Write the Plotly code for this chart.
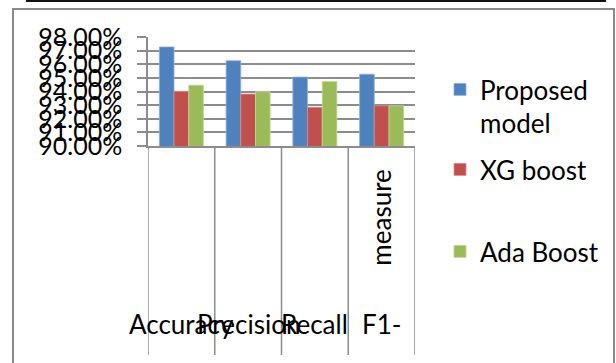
import plotly.graph_objects as go

# Metric scores of the three classifiers
categories = ["Accuracy", "Precision", "Recall", "F1-measure"]
series_names = ["Proposed model", "XG boost", "Ada Boost"]
proposed = [0.9727, 0.9626, 0.9506, 0.9527]
xg_boost = [0.9401, 0.9381, 0.9284, 0.9295]
ada_boost = [0.9446, 0.9398, 0.9473, 0.9295]
y_ticks = [0.90, 0.91, 0.92, 0.93, 0.94, 0.95, 0.96, 0.97, 0.98]

colors = ["#4F81BD", "#C0504D", "#9BBB59"]
edge_colors = ["#8FB0DA", "#D98A88", "#C1D89A"]

W, H = 616, 363
L, R, T, B = 148, 415, 37, 146          # plot area in pixels
PW, PH = R - L, B - T


def px_x(p):
    return (p - L) / PW


def px_y(p):
    return (B - p) / PH


FONT = "Lato"
GRAY = "#8c8c8c"

fig = go.Figure()
legend_ids = ["legend", "legend2", "legend3"]
for name, vals, col, ecol, lid in zip(series_names, [proposed, xg_boost, ada_boost],
                                      colors, edge_colors, legend_ids):
    fig.add_trace(go.Bar(
        x=categories, y=vals, name=name.replace(" model", "<br>model"),
        marker=dict(color=col, line=dict(color=ecol, width=0.8)),
        legend=lid, showlegend=True,
    ))

shapes = []
# category separators running down through the label band
for i in range(len(categories) + 1):
    shapes.append(dict(type="line", xref="x", yref="paper",
                       x0=i - 0.5, x1=i - 0.5, y0=0, y1=px_y(355),
                       line=dict(color=GRAY, width=1.5)))
# outer chart frame
shapes.append(dict(type="rect", xref="paper", yref="paper",
                   x0=px_x(13), x1=px_x(614), y0=px_y(9), y1=px_y(380),
                   line=dict(color="#8a8a8a", width=2), fillcolor="rgba(0,0,0,0)"))
# edge of the table above the chart
shapes.append(dict(type="line", xref="paper", yref="paper",
                   x0=px_x(26), x1=px_x(606), y0=px_y(1), y1=px_y(1),
                   line=dict(color="#111111", width=2)))

annotations = []
label_font = dict(family=FONT, size=26, color="#000000")
for cat in categories:
    if "-" in cat:
        head, tail = cat.split("-", 1)
        annotations.append(dict(x=cat, y=px_y(324), xref="x", yref="paper",
                                text=head + "-", showarrow=False, font=label_font,
                                xanchor="center", yanchor="middle"))
        annotations.append(dict(x=cat, y=px_y(218), xref="x", yref="paper",
                                text=tail, showarrow=False, font=label_font,
                                textangle=-90, xshift=-1,
                                xanchor="center", yanchor="middle"))
    else:
        annotations.append(dict(x=cat, y=px_y(324), xref="x", yref="paper",
                                text=cat, showarrow=False, font=label_font,
                                xanchor="center", yanchor="middle"))

legend_common = dict(font=dict(family=FONT, size=26, color="#000000"),
                     bgcolor="rgba(0,0,0,0)", borderwidth=0,
                     xanchor="left", yanchor="top", valign="top", visible=True)
legend_x = px_x(440)

fig.update_layout(
    width=W, height=H,
    margin=dict(l=L, r=W - R, t=T, b=H - B, pad=0),
    paper_bgcolor="white", plot_bgcolor="white",
    showlegend=True,
    barmode="group", bargap=0.34, bargroupgap=0,
    font=dict(family=FONT, size=26, color="#000000"),
    xaxis=dict(type="category", range=[-0.5, len(categories) - 0.5],
               showticklabels=False, showgrid=False, ticks="",
               showline=True, linecolor=GRAY, linewidth=1.5, fixedrange=True),
    yaxis=dict(range=[y_ticks[0], y_ticks[-1]], tickmode="array", tickvals=y_ticks,
               tickformat=".2%", ticks="outside", ticklen=9, tickwidth=1.5,
               tickcolor=GRAY, showgrid=True, gridcolor=GRAY, gridwidth=1.5,
               showline=True, linecolor=GRAY, linewidth=1.5, zeroline=False,
               ticklabelstandoff=10, tickfont=dict(family=FONT, size=25, color="#000000")),
    legend=dict(x=legend_x, y=px_y(66), **legend_common),
    legend2=dict(x=legend_x, y=px_y(146), **legend_common),
    legend3=dict(x=legend_x, y=px_y(228), **legend_common),
    shapes=shapes,
    annotations=annotations,
)

fig.write_html("out.html")
